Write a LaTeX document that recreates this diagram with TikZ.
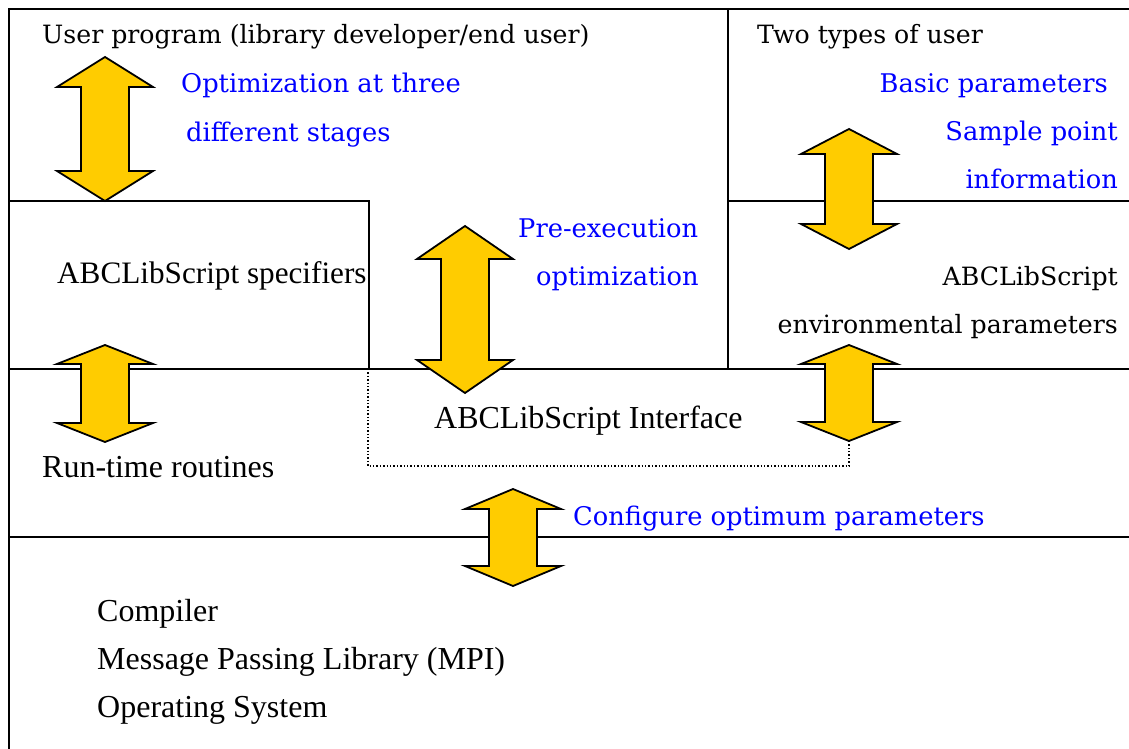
\documentclass[tikz,border=0pt]{standalone}
\usepackage{fontspec}
\setmainfont{Liberation Serif}
\newfontfamily\lucida{DejaVu Serif}

\definecolor{arrowyellow}{HTML}{FFCC00}

\tikzset{
  layer/.style={line width=2pt},
  iface/.style={dotted, line width=1.4pt},
  bigarrow/.style={draw=black, line width=1.8pt, fill=arrowyellow, line join=miter},
  txt/.style={inner sep=0pt, font=\fontsize{32}{36}\selectfont},
  ltxt/.style={inner sep=0pt, font=\lucida\fontsize{25.2}{30}\selectfont},
  btxt/.style={inner sep=0pt, font=\lucida\fontsize{25.7}{30}\selectfont, text=blue}
}

% up-down block arrow: x, top tip, bottom tip, head length
\newcommand{\updown}[4]{%
  \pgfmathsetmacro{\shaftlen}{#3-#2-2*#4}
  \draw[bigarrow] (#1,#2) -- ++(48,#4) -- ++(-24,0) -- ++(0,\shaftlen) -- ++(24,0)
    -- (#1,#3) -- ++(-48,-#4) -- ++(24,0) -- ++(0,-\shaftlen) -- ++(-24,0) -- cycle;}

\begin{document}
\begin{tikzpicture}[x=1pt,y=-1pt]
        \useasboundingbox (0,0) rectangle (1129,749);

        % Layers
        \draw[layer] (1129,9) -- (9,9) -- (9,749);
        \draw[layer] (728,9) -- (728,369);
        \draw[layer] (9,201) -- (369,201) -- (369,369);
        \draw[layer] (728,201) -- (1129,201);
        \draw[layer] (9,369) -- (1129,369);
        \draw[layer] (9,537) -- (1129,537);

        % Interface
        \coordinate (ifnw) at (368,369);
        \coordinate (ifsw) at (368,466);
        \coordinate (ifse) at (849,466);
        \coordinate (envtip) at (849,441);
        \draw[iface] (ifnw) -- (ifsw) -- (ifse) -- (envtip);

        % Arrows
        \updown{105}{57}{201}{30}
        \updown{105}{345}{442}{19}
        \updown{465}{226}{393}{33}
        \updown{849}{129}{249}{25}
        \updown{849}{345}{441}{19}
        \updown{513}{489}{586}{20}

        % Top layer
        \node[ltxt, anchor=base west] (user) at (42,44) {User program (library developer/end user)};
        \node[btxt, anchor=base west] (three) at (181,93) {Optimization at three};
        \node[btxt, anchor=base west] (stages) at (186,141) {different stages};
        \node[ltxt, anchor=base west] (types) at (757,44) {Two types of user};
        \node[btxt, anchor=base east] (basic) at (1108,93) {Basic parameters};
        \node[btxt, anchor=base east] (sample) at (1118,140) {Sample point};
        \node[btxt, anchor=base east] (info) at (1118,188) {information};

        % Middle layer
        \node[txt, font=\fontsize{31.2}{36}\selectfont, anchor=base west] (spec) at (57,283) {ABCLibScript specifiers};
        \node[btxt, anchor=base west] (pre) at (518,237) {Pre-execution};
        \node[btxt, anchor=base west] (preopt) at (536,285) {optimization};
        \node[ltxt, anchor=base east] (abc) at (1118,285) {ABCLibScript};
        \node[ltxt, anchor=base east] (env) at (1118,333) {environmental parameters};

        % Run-time layer
        \node[txt, anchor=base west] (interface) at (434,428) {ABCLibScript Interface};
        \node[txt, anchor=base west] (runtime) at (42,477) {Run-time routines};
        \node[btxt, anchor=base west] (config) at (573,525) {Configure optimum parameters};

        % System layer
        \node[txt, anchor=base west] (compiler) at (97,621) {Compiler};
        \node[txt, anchor=base west] (mpi) at (97,669) {Message Passing Library (MPI)};
        \node[txt, anchor=base west] (os) at (97,717) {Operating System};
    \end{tikzpicture}
\end{document}
